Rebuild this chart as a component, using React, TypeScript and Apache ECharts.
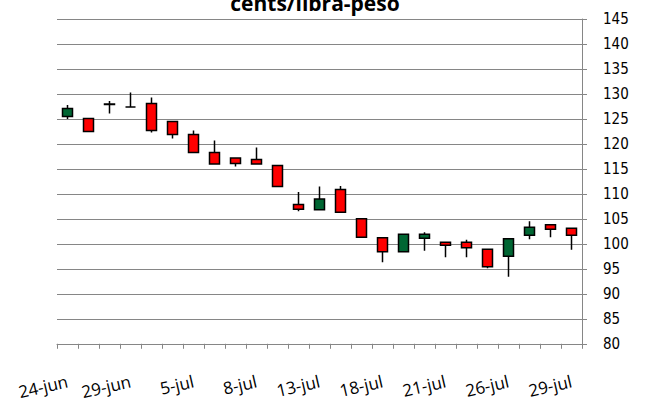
import React, { useEffect, useRef } from "react";
import * as echarts from "echarts";

const categories = [
  "24-jun", "25-jun", "28-jun", "29-jun", "30-jun", "1-jul", "5-jul", "6-jul", "7-jul",
  "8-jul", "9-jul", "12-jul", "13-jul", "14-jul", "15-jul", "18-jul", "19-jul", "20-jul",
  "21-jul", "22-jul", "23-jul", "26-jul", "27-jul", "28-jul", "29-jul",
];
const openValues = [125.5, 125.1, 127.9, 127.4, 128.1, 124.5, 121.9, 118.3, 117.2, 116.9, 115.7, 107.9, 106.8, 110.9, 105.0, 101.2, 98.4, 101.1, 100.3, 100.3, 98.9, 97.5, 101.7, 103.8, 103.1];
const closeValues = [127.1, 122.5, 128.0, 127.4, 122.7, 121.9, 118.3, 116.0, 116.1, 116.0, 111.5, 106.9, 109.0, 106.3, 101.3, 98.4, 101.9, 101.9, 99.7, 99.2, 95.4, 101.0, 103.3, 102.9, 101.7];
const lowValues = [125.0, 122.5, 126.1, 127.3, 122.3, 121.1, 118.3, 116.0, 115.5, 116.0, 111.5, 106.5, 106.8, 106.3, 101.3, 96.3, 98.4, 98.6, 97.3, 97.3, 95.1, 93.4, 100.9, 101.3, 98.8];
const highValues = [127.8, 125.1, 128.6, 130.3, 129.3, 124.5, 122.7, 120.7, 117.2, 119.3, 115.7, 110.4, 111.5, 111.6, 105.0, 101.2, 101.9, 102.3, 100.3, 100.8, 98.9, 101.0, 104.5, 103.8, 103.1];
const yMin = 80;
const yMax = 145;
const yStep = 5;
const titleText = "cents/libra-peso";

export default function App() {
  const ref = useRef<HTMLDivElement>(null);
  useEffect(() => {
    if (!ref.current) return;
    const chart = echarts.init(ref.current, null, { renderer: "svg" });
    const data = categories.map((_, i) => [openValues[i], closeValues[i], lowValues[i], highValues[i]]);
    chart.setOption({
      animation: false,
      backgroundColor: "#fff",
      grid: { left: 57, right: 68, top: 19, bottom: 57, containLabel: false },
      graphic: [
        {
          type: "text",
          x: 315,
          y: 3,
          style: {
            text: titleText,
            fontSize: 21,
            fontWeight: "bold",
            fontFamily: "'Open Sans', sans-serif",
            fill: "#000",
            align: "center",
            verticalAlign: "middle",
          },
        },
      ],
      xAxis: {
        type: "category",
        data: categories,
        boundaryGap: true,
        axisLine: { lineStyle: { color: "#868686", width: 1 } },
        axisTick: { show: true, interval: 0, length: 5, lineStyle: { color: "#868686" } },
        axisLabel: {
          interval: 2,
          rotate: 13,
          margin: 37,
          fontSize: 17,
          fontFamily: "'Open Sans', sans-serif",
          color: "#000",
        },
        splitLine: { show: false },
      },
      yAxis: {
        type: "value",
        position: "right",
        min: yMin,
        max: yMax,
        interval: yStep,
        axisLine: { show: true, lineStyle: { color: "#868686", width: 1 } },
        axisTick: { show: true, length: 5, lineStyle: { color: "#868686" } },
        axisLabel: {
          margin: 21,
          fontSize: 15,
          fontFamily: "'Liberation Sans Narrow', 'DejaVu Sans Condensed', sans-serif",
          color: "#000",
        },
        splitLine: { show: true, lineStyle: { color: "#868686", width: 1 } },
      },
      series: [
        {
          type: "candlestick",
          data,
          barWidth: 10,
          itemStyle: {
            color: "#006633",
            color0: "#FF0000",
            borderColor: "#000",
            borderColor0: "#000",
            borderColorDoji: "#000",
            borderWidth: 1.5,
          },
        },
      ],
    });
    return () => chart.dispose();
  }, []);
  return (
    <div
      ref={ref}
      style={{ position: "fixed", left: 0, top: 0, width: 650, height: 401, background: "#fff" }}
    />
  );
}
